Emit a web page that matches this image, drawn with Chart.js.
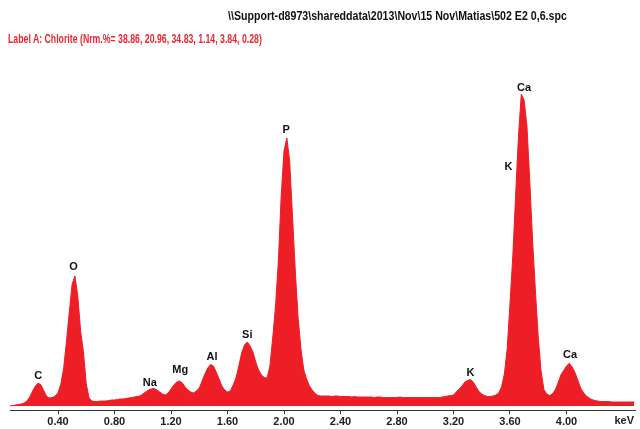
<!DOCTYPE html>
<html>
<head>
<meta charset="utf-8">
<script src="https://cdn.jsdelivr.net/npm/chart.js@4/dist/chart.umd.min.js"></script>
<style>
  html,body{margin:0;padding:0;background:#fff;}
  #wrap{position:relative;width:640px;height:429px;overflow:hidden;}
  #c{position:absolute;left:0;top:0;}
  .txt{position:absolute;white-space:nowrap;font-weight:bold;transform-origin:0 50%;line-height:1;}
  #hdr{left:228px;top:8px;font:bold 13px "Liberation Sans Narrow","Liberation Sans",Arial,sans-serif;color:#111;}
  #lab{left:8px;top:32px;font:bold 12px "Liberation Sans Narrow","Liberation Sans",Arial,sans-serif;color:#ee2530;}
</style>
</head>
<body>
<div id="wrap">
  <canvas id="c" width="640" height="429"></canvas>
  <div id="hdr" class="txt">\\Support-d8973\shareddata\2013\Nov\15 Nov\Matias\502 E2 0,6.spc</div>
  <div id="lab" class="txt">Label A: Chlorite (Nrm.%= 38.86, 20.96, 34.83, 1.14, 3.84, 0.28)</div>
</div>
<script>
// ---- DATA ----
const energies = [
0.06,0.08,0.10,0.12,0.14,0.16,0.18,0.20,0.22,0.24,0.26,0.28,0.30,0.32,0.34,0.36,0.38,0.40,0.42,0.44,
0.46,0.48,0.50,0.52,0.54,0.56,0.58,0.60,0.62,0.64,0.66,0.68,0.70,0.72,0.74,0.76,0.78,0.80,0.82,0.84,
0.86,0.88,0.90,0.92,0.94,0.96,0.98,1.00,1.02,1.04,1.06,1.08,1.10,1.12,1.14,1.16,1.18,1.20,1.22,1.24,
1.26,1.28,1.30,1.32,1.34,1.36,1.38,1.40,1.42,1.44,1.46,1.48,1.50,1.52,1.54,1.56,1.58,1.60,1.62,1.64,
1.66,1.68,1.70,1.72,1.74,1.76,1.78,1.80,1.82,1.84,1.86,1.88,1.90,1.92,1.94,1.96,1.98,2.00,2.02,2.04,
2.06,2.08,2.10,2.12,2.14,2.16,2.18,2.20,2.22,2.24,2.26,2.28,2.30,2.32,2.34,2.36,2.38,2.40,2.42,2.44,
2.46,2.48,2.50,2.52,2.54,2.56,2.58,2.60,2.62,2.64,2.66,2.68,2.70,2.72,2.74,2.76,2.78,2.80,2.82,2.84,
2.86,2.88,2.90,2.92,2.94,2.96,2.98,3.00,3.02,3.04,3.06,3.08,3.10,3.12,3.14,3.16,3.18,3.20,3.22,3.24,
3.26,3.28,3.30,3.32,3.34,3.36,3.38,3.40,3.42,3.44,3.46,3.48,3.50,3.52,3.54,3.56,3.58,3.60,3.62,3.64,
3.66,3.68,3.70,3.72,3.74,3.76,3.78,3.80,3.82,3.84,3.86,3.88,3.90,3.92,3.94,3.96,3.98,4.00,4.02,4.04,
4.06,4.08,4.10,4.12,4.14,4.16,4.18,4.20,4.22,4.24,4.26,4.28,4.30,4.32,4.34,4.36,4.38,4.40,4.42,4.44,
4.46,4.48];
const counts = [
0,0.5,1,1.5,2,3,5,9,15,20,23,21,15,9.5,8,8.5,10,13,22,38,
65,94,122,130,110,75,54,22,8,5,4.5,4.5,5,5,5,5.5,6,6,6.5,7,
7,7.5,8,8.5,9,9.5,10,12,14,16,17,17.5,16,14,12,11,13,17,21,24,
25,23,19,16,14,13,15,18,25,32,38,41.5,40,34,27,20,16,14,15,21,
28,40,53,61,64,60,54,44,36,31,28.5,28,40,68,100,145,210,255,268,245,
190,135,88,57,36,27,20,16,12.5,10.5,10,10,10,10,9.5,10,10,9.5,9.5,9.5,
9.5,9,9.5,9,9,9,9,9,9,8.5,9,9,8.5,8.5,8.5,8.5,8.5,8.5,9,8.5,
8.5,8.5,8.5,8.5,8.5,8.5,8.5,8.5,8.5,8.5,8.5,8.5,8.5,9,9.5,10,10.5,11,14,17,
20,24,25.5,26.5,24,19,14.5,12,10.5,9.5,9.5,10,11,13,19,32,57,103,150,211,
270,312,306,280,225,165,115,69,35,16.5,12,10.5,12,16,23,31,35.5,40,42.7,39,
33.5,26,18,13.5,10,8,6.5,5.5,5,4.5,4.5,4.5,4.5,4,4,4,4,4,4,4,
4,4];
const tickValues = [0.40,0.80,1.20,1.60,2.00,2.40,2.80,3.20,3.60,4.00];
const axisUnit = "keV";
const peakNames    = ["C","O","Na","Mg","Al","Si","P","K","Ca","K","Ca"];
const peakEnergies = [0.26,0.51,1.05,1.265,1.49,1.74,2.015,3.59,3.70,3.32,4.025];
const peakLabelAt  = [30,139,23,36,49,71,276,239,318,33,51];

// ---- CHART ----
const RED = 'rgb(237,30,37)';
const peakLabelPlugin = {
  id: 'peakLabels',
  afterDatasetsDraw(chart) {
    const {ctx, scales:{x, y}, chartArea} = chart;
    ctx.save();
    ctx.font = 'bold 11px "Liberation Sans", Arial, sans-serif';
    ctx.fillStyle = '#111';
    ctx.textAlign = 'center';
    ctx.textBaseline = 'middle';
    peakNames.forEach((n, i) => {
      ctx.fillText(n, x.getPixelForValue(peakEnergies[i]), y.getPixelForValue(peakLabelAt[i]));
    });
    ctx.font = 'bold 11px "Liberation Sans Narrow", "Liberation Sans", Arial, sans-serif';
    ctx.fillStyle = '#222';
    ctx.textAlign = 'right';
    ctx.fillText(axisUnit, chartArea.right - 1, 421);
    ctx.restore();
  }
};

new Chart(document.getElementById('c'), {
  type: 'line',
  data: {
    datasets: [{
      data: energies.map((e, i) => ({x: e, y: counts[i]})),
      borderColor: RED,
      backgroundColor: RED,
      borderWidth: 1,
      fill: 'origin',
      pointRadius: 0,
      tension: 0
    }]
  },
  options: {
    responsive: false,
    animation: false,
    devicePixelRatio: 1,
    layout: { padding: { left: 10, right: 5, top: 60, bottom: 0 }, autoPadding: false },
    plugins: { legend: { display: false }, tooltip: { enabled: false } },
    scales: {
      x: {
        type: 'linear',
        min: 0.06,
        max: 4.485,
        afterBuildTicks: s => { s.ticks = tickValues.map(v => ({value: v})); },
        afterFit: s => { s.height = 19; },
        ticks: {
          callback: v => Number(v).toFixed(2),
          font: { family: '"Liberation Sans Narrow", "Liberation Sans", Arial, sans-serif', size: 11, weight: 'bold' },
          color: '#222',
          maxRotation: 0,
          autoSkip: false,
          padding: 1
        },
        grid: { drawOnChartArea: false, drawTicks: true, tickLength: 4, color: '#333', lineWidth: 1 },
        border: { display: true, color: '#333', width: 1 }
      },
      y: { display: false, min: -4, max: 346 }
    }
  },
  plugins: [peakLabelPlugin]
});

// fit header texts to reference widths
function fitWidth(id, w) {
  const el = document.getElementById(id);
  el.style.transform = 'scaleX(' + (w / el.offsetWidth) + ')';
}
fitWidth('hdr', 339);
fitWidth('lab', 254);
</script>
</body>
</html>
